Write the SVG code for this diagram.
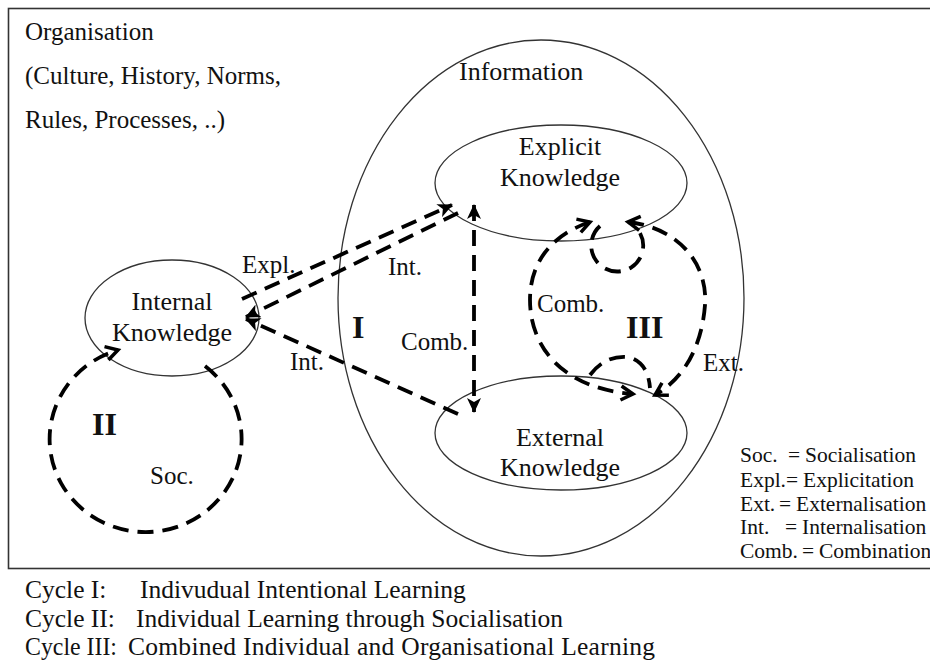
<svg xmlns="http://www.w3.org/2000/svg" width="930" height="666" viewBox="0 0 930 666">
  <style>
    text { font-family: "Liberation Serif", "Times New Roman", serif; fill: #111; }
    .lbl { font-size: 25px; }
    .node { font-size: 26px; text-anchor: middle; }
    .num { font-size: 32px; font-weight: bold; }
    .leg { font-size: 21.5px; }
    .cap { font-size: 25.5px; }
    .ell { fill: none; stroke: #333; stroke-width: 1.3; }
    .dash { fill: none; stroke: #000; stroke-width: 3.8; stroke-dasharray: 16 9; }
  </style>
  <defs>
    <marker id="solidHead" markerUnits="userSpaceOnUse" markerWidth="16" markerHeight="14" refX="14" refY="7" orient="auto-start-reverse">
      <path d="M0,0 L15,7 L0,14 L4,7 z" fill="#000"/>
    </marker>
    <marker id="openHead" markerUnits="userSpaceOnUse" markerWidth="18" markerHeight="18" refX="14" refY="9" orient="auto-start-reverse">
      <path d="M2,2 L14,9 L2,16" fill="none" stroke="#000" stroke-width="3.5" stroke-linejoin="miter"/>
    </marker>
  </defs>

  <!-- organisation frame -->
  <g id="organisation">
    <rect x="8.5" y="8.5" width="930" height="560" fill="#fff" stroke="#333" stroke-width="1.6"/>
    <text class="lbl" x="25" y="40">Organisation</text>
    <text class="lbl" x="25" y="84">(Culture, History, Norms,</text>
    <text class="lbl" x="25" y="128">Rules, Processes, ..)</text>
  </g>

  <g id="information">
    <ellipse class="ell" cx="541" cy="298" rx="203" ry="258"/>
    <text class="lbl" x="459" y="80" style="font-size:26px">Information</text>
  </g>

  <g id="explicit-knowledge">
    <ellipse class="ell" cx="561" cy="183" rx="126" ry="58"/>
    <text class="node" x="560" y="155">Explicit</text>
    <text class="node" x="560" y="186">Knowledge</text>
  </g>

  <g id="external-knowledge">
    <ellipse class="ell" cx="561" cy="433" rx="126" ry="57"/>
    <text class="node" x="560" y="446">External</text>
    <text class="node" x="560" y="476">Knowledge</text>
  </g>

  <g id="internal-knowledge">
    <ellipse class="ell" cx="172" cy="318" rx="87" ry="58"/>
    <text class="node" x="172" y="310">Internal</text>
    <text class="node" x="172" y="341">Knowledge</text>
  </g>

  <!-- connectors -->
  <g id="connectors">
    <!-- cycle I -->
    <path class="dash" d="M242,299 L452,205" marker-end="url(#solidHead)"/>
    <path class="dash" d="M458,213 L246,317" marker-end="url(#solidHead)"/>
    <path class="dash" d="M458,414 L246,319" marker-end="url(#solidHead)"/>
    <path class="dash" d="M474,205 L474,412" marker-start="url(#solidHead)" marker-end="url(#solidHead)"/>
    <!-- cycle II -->
    <path class="dash" d="M205,366 A96 93 0 1 1 118,350" marker-end="url(#openHead)"/>
    <!-- cycle III -->
    <path class="dash" d="M590,222 C560,232 530,255 530,300 C530,345 560,388 633,394" marker-start="url(#openHead)" marker-end="url(#openHead)"/>
    <path class="dash" d="M628,222 C680,228 708,265 705,305 C702,345 685,378 655,395" marker-start="url(#openHead)" marker-end="url(#openHead)"/>
    <path class="dash" d="M600,226 A26 26 0 1 0 640,233"/>
    <path class="dash" d="M590,375 Q605,355 628,357 Q648,362 650,388"/>
  </g>

  <g id="connector-labels">
    <text class="lbl" x="242" y="273">Expl.</text>
    <text class="lbl" x="388" y="275">Int.</text>
    <text class="lbl" x="290" y="370">Int.</text>
    <text class="lbl" x="401" y="350">Comb.</text>
    <text class="num" x="352" y="338">I</text>
    <text class="num" x="92" y="435">II</text>
    <text class="lbl" x="150" y="484">Soc.</text>
    <text class="lbl" x="537" y="312">Comb.</text>
    <text class="num" x="626" y="338">III</text>
    <text class="lbl" x="703" y="371">Ext.</text>
  </g>

  <g id="legend">
    <text class="leg" x="740" y="462">Soc.<tspan x="788">=</tspan><tspan x="805">Socialisation</tspan></text>
    <text class="leg" x="740" y="487">Expl.<tspan x="786">=</tspan><tspan x="803">Explicitation</tspan></text>
    <text class="leg" x="740" y="511">Ext.<tspan x="779">=</tspan><tspan x="796">Externalisation</tspan></text>
    <text class="leg" x="740" y="534">Int.<tspan x="785">=</tspan><tspan x="802">Internalisation</tspan></text>
    <text class="leg" x="740" y="558">Comb.<tspan x="802">=</tspan><tspan x="819">Combination</tspan></text>
  </g>

  <g id="captions">
    <text class="cap" x="25" y="598">Cycle I:<tspan x="140">Indivudual Intentional Learning</tspan></text>
    <text class="cap" x="25" y="627">Cycle II:<tspan x="136">Individual Learning through Socialisation</tspan></text>
    <text class="cap" x="25" y="655"><tspan textLength="92" lengthAdjust="spacingAndGlyphs">Cycle III:</tspan><tspan x="128" textLength="527" lengthAdjust="spacing">Combined Individual and Organisational Learning</tspan></text>
  </g>
</svg>
